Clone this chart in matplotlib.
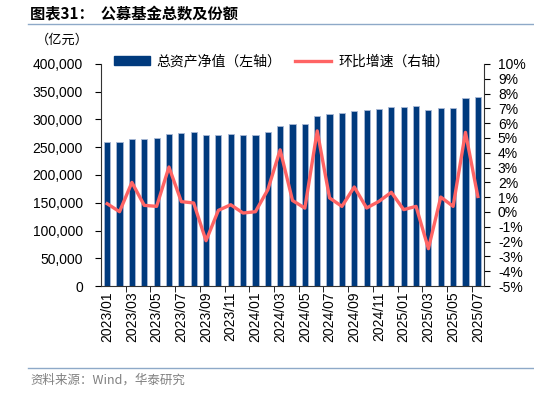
import numpy as np
import matplotlib.pyplot as plt
from matplotlib.lines import Line2D

plt.rcParams['font.family'] = ['Liberation Sans', 'Noto Sans CJK SC', 'DejaVu Sans']

months = ['2023/01', '2023/02', '2023/03', '2023/04', '2023/05', '2023/06', '2023/07', '2023/08',
          '2023/09', '2023/10', '2023/11', '2023/12', '2024/01', '2024/02', '2024/03', '2024/04',
          '2024/05', '2024/06', '2024/07', '2024/08', '2024/09', '2024/10', '2024/11', '2024/12',
          '2025/01', '2025/02', '2025/03', '2025/04', '2025/05', '2025/06', '2025/07']
# 总资产净值 (亿元)
nav = [259000, 259000, 264000, 265000, 266000, 274000, 276000, 277000,
       272000, 272000, 273000, 272000, 272000, 277000, 288000, 291000,
       291000, 307000, 310000, 312000, 316000, 317000, 319000, 323000,
       323000, 325000, 317000, 320000, 321000, 338000, 341000]
# 环比增速 (%)
mom = [0.56, 0.02, 2.0, 0.45, 0.38, 3.04, 0.70, 0.61,
       -1.94, 0.11, 0.49, -0.07, 0.02, 1.5, 4.2, 0.78,
       0.26, 5.48, 0.95, 0.38, 1.69, 0.27, 0.72, 1.33,
       0.16, 0.38, -2.48, 1.01, 0.38, 5.38, 1.05]

bar_color = '#003A7D'
line_color = '#FF6464'

fig = plt.figure(figsize=(5.34, 3.93), dpi=100)
ax = fig.add_axes([101/534, 1-286/393, 383/534, 222/393])
x = np.arange(len(months))

ax.bar(x, nav, width=0.5, color=bar_color, edgecolor='#A9B9D6', linewidth=0.6, zorder=2)
ax.set_xlim(-0.5, len(months) - 0.5)
ax.set_ylim(0, 400000)
ax.set_yticks(np.arange(0, 400001, 50000))
ax.set_yticklabels([f'{v:,}' for v in range(0, 400001, 50000)], fontsize=10)
ax.set_xticks(x[::2])
ax.set_xticklabels(months[::2], rotation=90, fontsize=10)
ax.set_xticks(np.arange(1.5, len(months), 2), minor=True)
ax.tick_params(axis='x', which='major', length=0, pad=4)
ax.tick_params(axis='x', which='minor', length=4, direction='out')
ax.tick_params(axis='y', length=4, direction='out', pad=9)
ax.spines['top'].set_visible(False)
ax.spines['right'].set_visible(False)
for s in ['left', 'bottom']:
    ax.spines[s].set_color('#333333')
    ax.spines[s].set_linewidth(0.8)

ax2 = ax.twinx()
ax2.plot(x, mom, color=line_color, linewidth=2.4, zorder=3)
ax2.set_ylim(-5, 10)
ax2.set_yticks(np.arange(-5, 11, 1))
ax2.set_yticklabels([f'{v}%' for v in range(-5, 11)], fontsize=10)
ax2.tick_params(axis='y', length=4, direction='out', pad=6)
for s in ['top', 'left', 'bottom']:
    ax2.spines[s].set_visible(False)
ax2.spines['right'].set_color('#333333')
ax2.spines['right'].set_linewidth(0.8)

handles = [plt.Rectangle((0, 0), 1, 1, color=bar_color),
           Line2D([0], [0], color=line_color, linewidth=2.4)]
ax.legend(handles, ['总资产净值（左轴）', '环比增速（右轴）'], loc='upper left',
          bbox_to_anchor=(0.0, 1.1), ncol=2, frameon=False,
          handlelength=2.6, handleheight=0.6, columnspacing=1.0, handletextpad=0.5,
          prop={'family': ['Noto Sans CJK SC'], 'size': 10})

fig.text(30/534, 1-14/393, '图表31：  公募基金总数及份额', fontsize=11, fontweight='bold',
         va='center', ha='left', family=['Noto Sans CJK SC'])
fig.add_artist(Line2D([28/534, 1], [1-24/393, 1-24/393], color='#8EA9C8', linewidth=1))
fig.text(36/534, 1-40/393, '（亿元）', fontsize=9.5, va='center', ha='left',
         family=['Noto Sans CJK SC'])
fig.add_artist(Line2D([28/534, 1], [1-368/393, 1-368/393], color='#8EA9C8', linewidth=1))
fig.text(30/534, 1-380/393, '资料来源：Wind，华泰研究', fontsize=9, color='#808080',
         va='center', ha='left', family=['Noto Sans CJK SC', 'Liberation Sans'])

fig.savefig('out.png', dpi=100)
